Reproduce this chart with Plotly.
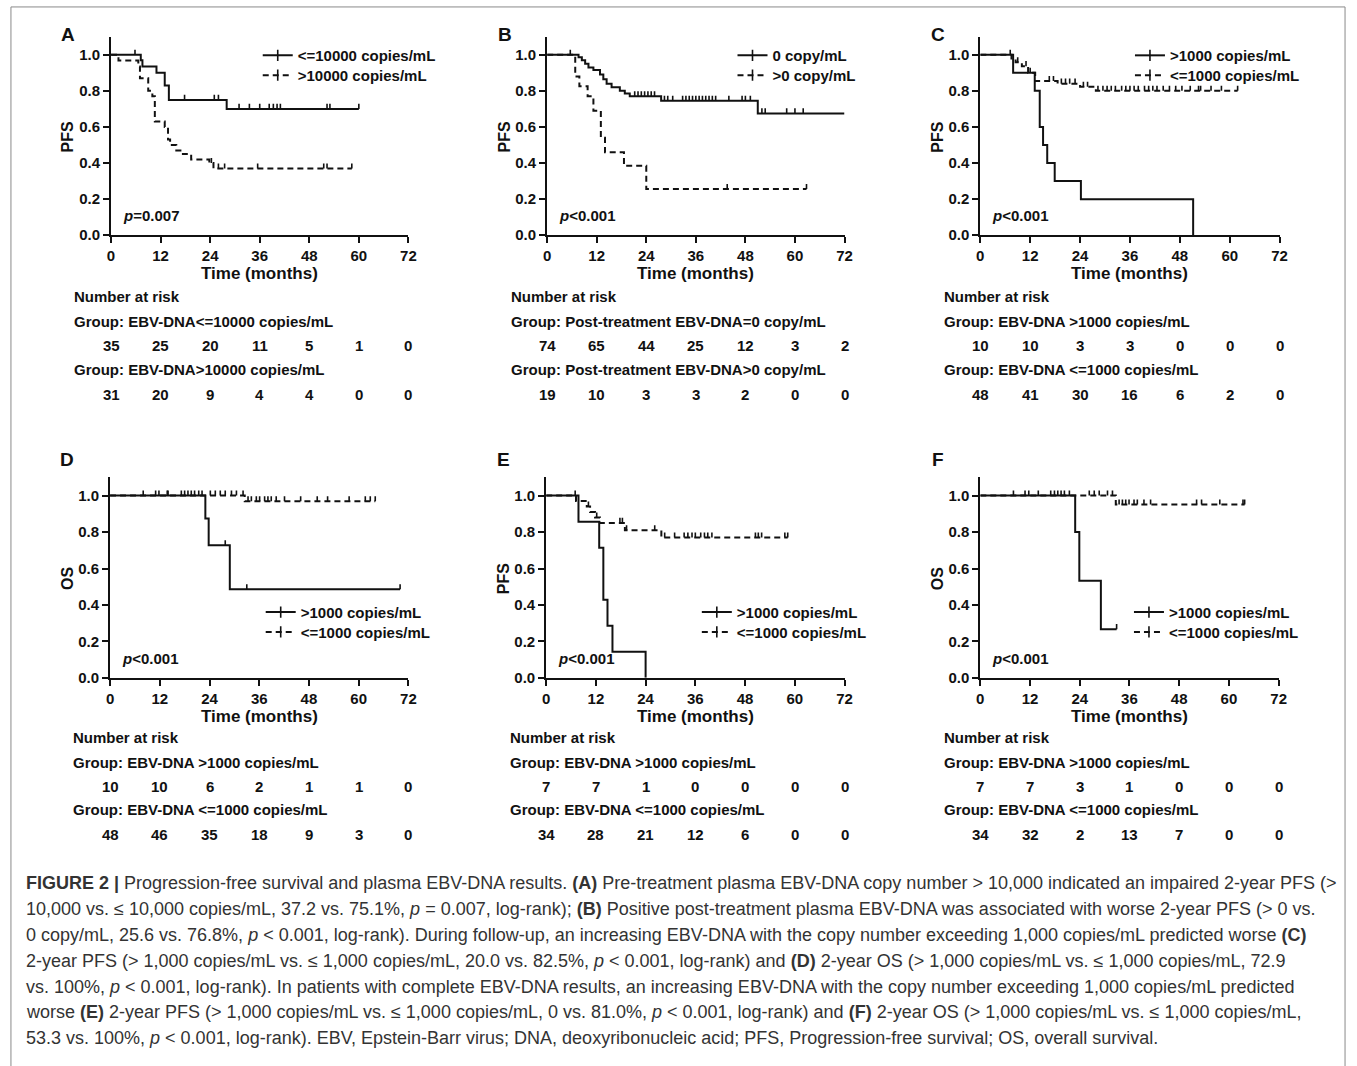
import numpy as np
import plotly.graph_objects as go

W, H = 1357, 1066
FONT = "Liberation Sans, Arial, Helvetica, sans-serif"
INK = "#111111"

# ---------------- data ----------------
ticks_x = [0, 12, 24, 36, 48, 60, 72]

# Panel A  (pre-treatment)
A1_name = "&lt;=10000 copies/mL"
A1_t = [7.2, 7.6, 11.0, 13.0, 14.0, 28.0]
A1_s = [0.97, 0.935, 0.90, 0.83, 0.75, 0.70]
A1_end = 60.0
A1_c = [5.8, 17.8, 25.0, 26.0, 31.0, 33.5, 36.0, 38.3, 39.3, 40.2, 41.0, 52.3, 53.0, 60.0]
A2_name = "&gt;10000 copies/mL"
A2_t = [1.8, 6.6, 7.0, 9.0, 10.0, 10.6, 13.0, 13.8, 14.3, 15.8, 17.4, 19.4, 23.8, 24.8]
A2_s = [0.968, 0.935, 0.87, 0.80, 0.77, 0.63, 0.60, 0.53, 0.50, 0.47, 0.45, 0.42, 0.40, 0.37]
A2_end = 58.3
A2_c = [24.3, 26.0, 27.5, 35.5, 51.5, 52.3, 58.3]
A_risk1_label = "Group: EBV-DNA&lt;=10000 copies/mL"
A_risk1 = [35, 25, 20, 11, 5, 1, 0]
A_risk2_label = "Group: EBV-DNA&gt;10000 copies/mL"
A_risk2 = [31, 20, 9, 4, 4, 0, 0]

# Panel B  (post-treatment)
B1_name = "0 copy/mL"
B1_t = [7.6, 8.4, 9.2, 10.0, 11.2, 12.8, 13.6, 14.4, 15.6, 17.6, 18.8, 20.0, 27.6, 51.0]
B1_s = [0.986, 0.97, 0.95, 0.93, 0.915, 0.89, 0.865, 0.84, 0.82, 0.80, 0.785, 0.77, 0.745, 0.675]
B1_end = 72.0
B1_c = [5.6, 21.2, 22.0, 22.8, 23.6, 24.4, 25.2, 26.0, 28.4, 29.2, 30.4, 32.8, 33.6, 34.4, 35.2,
        36.0, 36.8, 37.6, 38.4, 39.2, 40.0, 40.8, 44.0, 47.2, 48.0, 49.2, 52.0, 52.8, 58.0, 60.0, 62.0]
B2_name = "&gt;0 copy/mL"
B2_t = [6.8, 7.8, 9.8, 11.2, 13.0, 14.0, 18.6, 24.0]
B2_s = [0.88, 0.825, 0.77, 0.69, 0.54, 0.46, 0.385, 0.256]
B2_end = 62.8
B2_c = [43.6, 62.8]
B_risk1_label = "Group: Post-treatment EBV-DNA=0 copy/mL"
B_risk1 = [74, 65, 44, 25, 12, 3, 2]
B_risk2_label = "Group: Post-treatment EBV-DNA&gt;0 copy/mL"
B_risk2 = [19, 10, 3, 3, 2, 0, 0]

# Panel C  (follow-up, PFS)
C1_name = "&gt;1000 copies/mL"
C1_t = [7.9, 13.1, 14.3, 15.1, 16.1, 17.9, 24.2, 51.2]
C1_s = [0.9, 0.8, 0.6, 0.5, 0.4, 0.3, 0.2, 0.0]
C1_end = 51.2
C1_c = []
C2_name = "&lt;=1000 copies/mL"
C2_t = [7.5, 8.5, 10.0, 11.5, 13.2, 18.6, 24.0, 27.8]
C2_s = [0.979, 0.958, 0.937, 0.90, 0.855, 0.84, 0.823, 0.80]
C2_end = 61.9
C2_c = [7.2, 9.0, 11.0, 12.0, 16.6, 17.6, 19.5, 20.5, 21.5, 22.8, 24.8, 25.8, 28.3, 29.5, 30.5,
        31.5, 32.5, 34.0, 35.0, 36.0, 37.0, 38.0, 39.5, 40.5, 41.5, 42.5, 44.0, 45.5, 47.0, 48.5,
        50.5, 52.5, 53.0, 55.5, 58.0, 61.9]
C_risk1_label = "Group: EBV-DNA &gt;1000 copies/mL"
C_risk1 = [10, 10, 3, 3, 0, 0, 0]
C_risk2_label = "Group: EBV-DNA &lt;=1000 copies/mL"
C_risk2 = [48, 41, 30, 16, 6, 2, 0]

# Panel D  (follow-up, OS)
D1_name = "&gt;1000 copies/mL"
D1_t = [23.0, 23.8, 28.9]
D1_s = [0.875, 0.727, 0.486]
D1_end = 70.0
D1_c = [14.0, 17.2, 27.8, 33.0, 70.0]
D2_name = "&lt;=1000 copies/mL"
D2_t = [32.5]
D2_s = [0.969]
D2_end = 64.0
D2_c = [8.0, 11.0, 11.8, 13.8, 18.0, 18.8, 19.6, 20.4, 21.4, 22.2, 24.2, 25.4, 26.6, 27.8, 29.3,
        30.5, 32.1, 33.3, 34.1, 35.3, 36.1, 37.3, 38.1, 38.9, 40.1, 42.1, 46.0, 50.0, 52.5, 57.7,
        61.6, 62.8, 64.0]
D_risk1_label = "Group: EBV-DNA &gt;1000 copies/mL"
D_risk1 = [10, 10, 6, 2, 1, 1, 0]
D_risk2_label = "Group: EBV-DNA &lt;=1000 copies/mL"
D_risk2 = [48, 46, 35, 18, 9, 3, 0]

# Panel E  (complete results, PFS)
E1_name = "&gt;1000 copies/mL"
E1_t = [7.8, 12.8, 13.8, 14.8, 16.0, 24.0]
E1_s = [0.857, 0.714, 0.429, 0.286, 0.143, 0.0]
E1_end = 24.0
E1_c = []
E2_name = "&lt;=1000 copies/mL"
E2_t = [7.2, 9.8, 10.6, 11.8, 13.0, 19.0, 27.8]
E2_s = [0.97, 0.94, 0.91, 0.88, 0.85, 0.81, 0.77]
E2_end = 58.3
E2_c = [7.0, 10.2, 12.2, 17.8, 18.4, 19.4, 26.2, 28.6, 31.0, 33.3, 34.2, 35.2, 36.0, 37.3, 38.2,
        39.0, 40.0, 50.5, 51.2, 52.0, 57.6, 58.3]
E_risk1_label = "Group: EBV-DNA &gt;1000 copies/mL"
E_risk1 = [7, 7, 1, 0, 0, 0, 0]
E_risk2_label = "Group: EBV-DNA &lt;=1000 copies/mL"
E_risk2 = [34, 28, 21, 12, 6, 0, 0]

# Panel F  (complete results, OS)
F1_name = "&gt;1000 copies/mL"
F1_t = [22.9, 23.9, 29.1]
F1_s = [0.8, 0.533, 0.267]
F1_end = 32.9
F1_c = [32.9]
F2_name = "&lt;=1000 copies/mL"
F2_t = [32.7]
F2_s = [0.951]
F2_end = 63.8
F2_c = [8.0, 10.8, 11.7, 14.0, 17.0, 17.9, 18.7, 19.5, 20.3, 21.5, 26.3, 27.5, 28.7, 30.7, 31.9,
        33.5, 34.3, 35.1, 35.9, 37.1, 37.9, 39.5, 41.1, 52.2, 53.4, 57.8, 63.4, 63.8]
F_risk1_label = "Group: EBV-DNA &gt;1000 copies/mL"
F_risk1 = [7, 7, 3, 1, 0, 0, 0]
F_risk2_label = "Group: EBV-DNA &lt;=1000 copies/mL"
F_risk2 = [34, 32, 2, 13, 7, 0, 0]

caption_lines = [
    "<b>FIGURE 2 |</b> Progression-free survival and plasma EBV-DNA results. <b>(A)</b> Pre-treatment plasma EBV-DNA copy number &gt; 10,000 indicated an impaired 2-year PFS (&gt;",
    "10,000 vs. ≤ 10,000 copies/mL, 37.2 vs. 75.1%, <i>p</i> = 0.007, log-rank); <b>(B)</b> Positive post-treatment plasma EBV-DNA was associated with worse 2-year PFS (&gt; 0 vs.",
    "0 copy/mL, 25.6 vs. 76.8%, <i>p</i> &lt; 0.001, log-rank). During follow-up, an increasing EBV-DNA with the copy number exceeding 1,000 copies/mL predicted worse <b>(C)</b>",
    "2-year PFS (&gt; 1,000 copies/mL vs. ≤ 1,000 copies/mL, 20.0 vs. 82.5%, <i>p</i> &lt; 0.001, log-rank) and <b>(D)</b> 2-year OS (&gt; 1,000 copies/mL vs. ≤ 1,000 copies/mL, 72.9",
    "vs. 100%, <i>p</i> &lt; 0.001, log-rank). In patients with complete EBV-DNA results, an increasing EBV-DNA with the copy number exceeding 1,000 copies/mL predicted",
    "worse <b>(E)</b> 2-year PFS (&gt; 1,000 copies/mL vs. ≤ 1,000 copies/mL, 0 vs. 81.0%, <i>p</i> &lt; 0.001, log-rank) and <b>(F)</b> 2-year OS (&gt; 1,000 copies/mL vs. ≤ 1,000 copies/mL,",
    "53.3 vs. 100%, <i>p</i> &lt; 0.001, log-rank). EBV, Epstein-Barr virus; DNA, deoxyribonucleic acid; PFS, Progression-free survival; OS, overall survival.",
]

# ---------------- layout helpers ----------------
def px_x(v):
    return v / W

def px_y(v):
    return 1 - v / H

panels = [
    dict(letter="A", ylab="PFS", p="<i>p</i>=0.007", x0=108, x1=408, yb=237, yt=37,
         c1=(A1_name, A1_t, A1_s, A1_end, A1_c), c2=(A2_name, A2_t, A2_s, A2_end, A2_c),
         r=(A_risk1_label, A_risk1, A_risk2_label, A_risk2), leg=(256, 56), tx=69),
    dict(letter="B", ylab="PFS", p="<i>p</i>&lt;0.001", x0=548, x1=848, yb=237, yt=37,
         c1=(B1_name, B1_t, B1_s, B1_end, B1_c), c2=(B2_name, B2_t, B2_s, B2_end, B2_c),
         r=(B_risk1_label, B_risk1, B_risk2_label, B_risk2), leg=(735, 56), tx=510),
    dict(letter="C", ylab="PFS", p="<i>p</i>&lt;0.001", x0=985, x1=1287, yb=237, yt=37,
         c1=(C1_name, C1_t, C1_s, C1_end, C1_c), c2=(C2_name, C2_t, C2_s, C2_end, C2_c),
         r=(C_risk1_label, C_risk1, C_risk2_label, C_risk2), leg=(1136, 56), tx=946),
    dict(letter="D", ylab="OS", p="<i>p</i>&lt;0.001", x0=107, x1=408, yb=683, yt=481,
         c1=(D1_name, D1_t, D1_s, D1_end, D1_c), c2=(D2_name, D2_t, D2_s, D2_end, D2_c),
         r=(D_risk1_label, D_risk1, D_risk2_label, D_risk2), leg=(259, 617), tx=68),
    dict(letter="E", ylab="PFS", p="<i>p</i>&lt;0.001", x0=547, x1=848, yb=683, yt=481,
         c1=(E1_name, E1_t, E1_s, E1_end, E1_c), c2=(E2_name, E2_t, E2_s, E2_end, E2_c),
         r=(E_risk1_label, E_risk1, E_risk2_label, E_risk2), leg=(699, 617), tx=508),
    dict(letter="F", ylab="OS", p="<i>p</i>&lt;0.001", x0=985, x1=1286, yb=683, yt=481,
         c1=(F1_name, F1_t, F1_s, F1_end, F1_c), c2=(F2_name, F2_t, F2_s, F2_end, F2_c),
         r=(F_risk1_label, F_risk1, F_risk2_label, F_risk2), leg=(1135, 617), tx=946),
]

def step_xy(t, s, end):
    xs = [0.0] + list(t)
    ys = [1.0] + list(s)
    if end > xs[-1]:
        xs.append(end)
        ys.append(ys[-1])
    return xs, ys

def surv_at(t, s, c):
    t = np.asarray(t)
    lv = np.concatenate([[1.0], s])
    idx = np.searchsorted(t, np.asarray(c, dtype=float), side="right")
    return lv[idx]

fig = go.Figure()
annotations = []
layout = {}
FS = 15
bold = dict(family=FONT, size=FS, color=INK, weight="bold")
leg_n = 0

for i, P in enumerate(panels):
    k = "" if i == 0 else str(i + 1)
    xa, ya = "xaxis" + k, "yaxis" + k
    xr, yr = "x" + k, "y" + k
    layout[xa] = dict(domain=[px_x(P["x0"]), px_x(P["x1"])], range=[0, 72], tickvals=ticks_x,
                      showline=True, linecolor=INK, linewidth=2, ticks="outside", ticklen=6,
                      tickwidth=2, tickcolor=INK, tickfont=bold, showgrid=False, zeroline=False,
                      anchor=yr, fixedrange=True)
    layout[ya] = dict(domain=[px_y(P["yb"]), px_y(P["yt"])], range=[0, 1.1],
                      tickvals=[0, 0.2, 0.4, 0.6, 0.8, 1.0], tickformat=".1f",
                      showline=True, linecolor=INK, linewidth=2, ticks="outside", ticklen=6,
                      tickwidth=2, tickcolor=INK, tickfont=bold, showgrid=False, zeroline=False,
                      anchor=xr, fixedrange=True)
    for j, (cv, dash) in enumerate([(P["c1"], "solid"), (P["c2"], "6px,4px")]):
        name, t, s, end, c = cv
        xs, ys = step_xy(t, s, end)
        fig.add_trace(go.Scatter(x=xs, y=ys, mode="lines", line=dict(color=INK, width=2, dash=dash, shape="hv"),
                                 name=name, xaxis=xr, yaxis=yr, showlegend=False, hoverinfo="skip"))
        if len(c):
            cy = surv_at(t, s, c)
            fig.add_trace(go.Scatter(x=c, y=cy, mode="markers", marker=dict(size=2, color="rgba(0,0,0,0)"),
                                     error_y=dict(type="data", array=[0.028] * len(c), arrayminus=[0] * len(c),
                                                  symmetric=False, width=0, thickness=1.6, color=INK),
                                     xaxis=xr, yaxis=yr, showlegend=False, hoverinfo="skip"))
        # legend entry (one legend box per item, so each row can be placed)
        leg_n += 1
        lg = "legend" if leg_n == 1 else "legend%d" % leg_n
        layout[lg] = dict(x=px_x(P["leg"][0]), y=px_y(P["leg"][1] + 20 * j), xanchor="left", yanchor="middle",
                          bgcolor="rgba(0,0,0,0)", borderwidth=0,
                          font=dict(family=FONT, size=FS, color=INK, weight="bold"), itemwidth=30)
        fig.add_trace(go.Scatter(x=[None], y=[None], mode="lines+markers", name=name,
                                 line=dict(color=INK, width=2, dash=dash),
                                 marker=dict(symbol="line-ns", size=8, line=dict(color=INK, width=1.6)),
                                 xaxis=xr, yaxis=yr, legend=lg, showlegend=True))
    top_row = P["yb"] < 400
    ly = 35 if top_row else 463
    annotations.append(dict(text="<b>%s</b>" % P["letter"], x=px_x(P["x0"] - 43), y=px_y(ly), xref="paper", yref="paper",
                            showarrow=False, font=dict(family=FONT, size=19, color=INK), xanchor="center", yanchor="middle"))
    annotations.append(dict(text="<b>%s</b>" % P["ylab"], x=px_x(P["x0"] - 43), y=px_y((P["yb"] + P["yt"]) / 2 + 1),
                            xref="paper", yref="paper", showarrow=False, textangle=-90,
                            font=dict(family=FONT, size=16, color=INK), xanchor="center", yanchor="middle"))
    annotations.append(dict(text="<b>Time (months)</b>", x=36, xref=xr, y=px_y(P["yb"] + 39), yref="paper",
                            showarrow=False, font=dict(family=FONT, size=17, color=INK), xanchor="center", yanchor="middle"))
    annotations.append(dict(text="<b>%s</b>" % P["p"], x=px_x(P["x0"] + 10), y=px_y(P["yb"] - 20), xref="paper", yref="paper",
                            showarrow=False, font=dict(family=FONT, size=FS, color=INK), xanchor="left", yanchor="middle"))
    base = 299 if top_row else 743
    l1, r1, l2, r2 = P["r"]
    rows = [("Number at risk", base), (l1, base + 25), (l2, base + 73)]
    for txt, yy in rows:
        annotations.append(dict(text="<b>%s</b>" % txt, x=px_x(P["tx"]), y=px_y(yy), xref="paper", yref="paper",
                                showarrow=False, font=dict(family=FONT, size=FS, color=INK), xanchor="left", yanchor="middle"))
    for vals, yy in [(r1, base + 49), (r2, base + 98)]:
        for tx, v in zip(ticks_x, vals):
            annotations.append(dict(text="<b>%d</b>" % v, x=tx, xref=xr, y=px_y(yy), yref="paper",
                                    showarrow=False, font=dict(family=FONT, size=FS, color=INK),
                                    xanchor="center", yanchor="middle"))

cap_y0, cap_dy = 890, 26
for n, line in enumerate(caption_lines):
    annotations.append(dict(text=line, x=px_x(20), y=px_y(cap_y0 + n * cap_dy), xref="paper", yref="paper",
                            showarrow=False, font=dict(family=FONT, size=18, color="#333333"),
                            xanchor="left", yanchor="middle"))

shapes = [dict(type="rect", xref="paper", yref="paper", x0=px_x(7), x1=px_x(1353), y0=px_y(1075), y1=px_y(7),
               line=dict(color="#8a8a8a", width=1), fillcolor="rgba(0,0,0,0)", layer="below")]

fig.update_layout(width=W, height=H, margin=dict(l=0, r=0, t=0, b=0), paper_bgcolor="white",
                  plot_bgcolor="white", annotations=annotations, shapes=shapes, **layout)

fig.write_html("out.html", config={"displayModeBar": False},
               post_script="document.body.style.margin='0px';document.body.style.padding='0px';")
